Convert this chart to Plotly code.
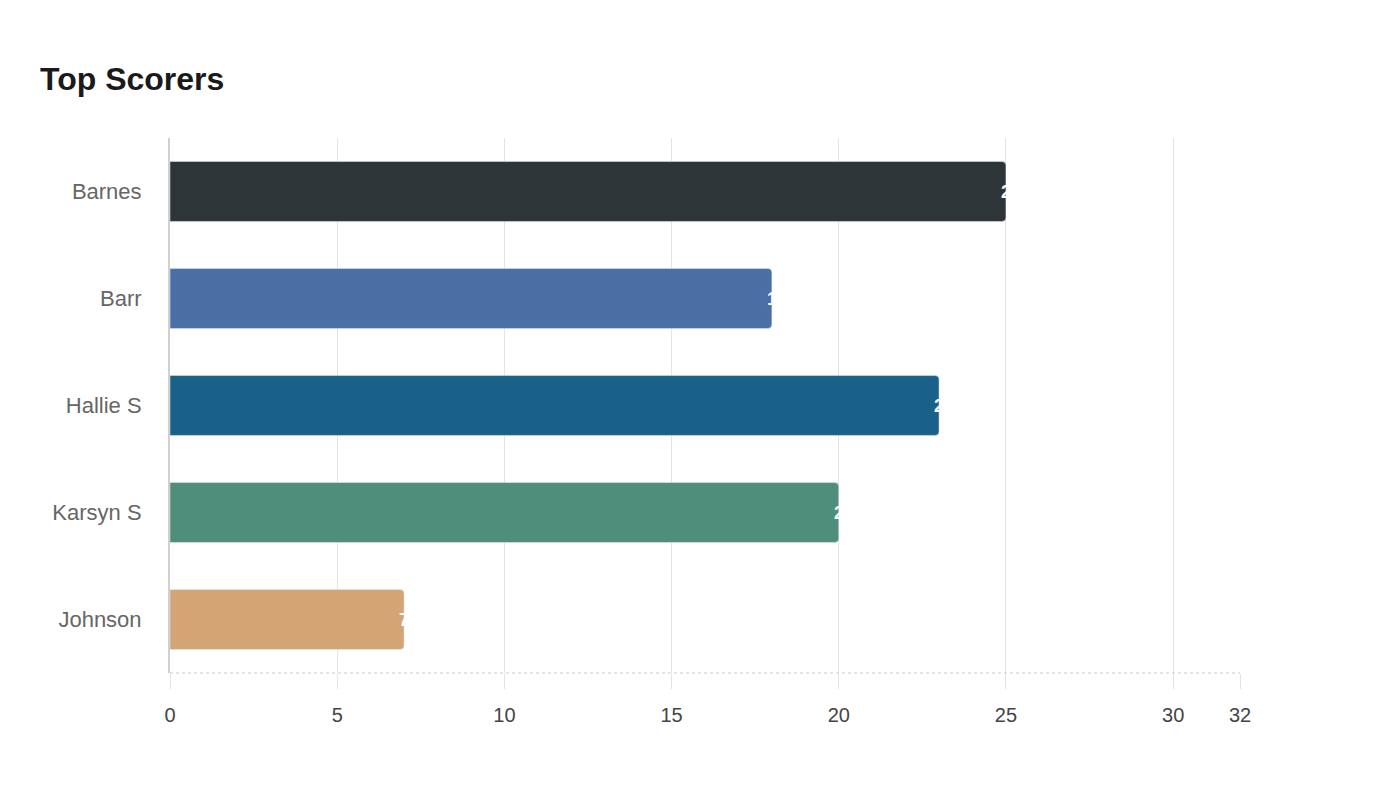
import plotly.graph_objects as go

players = ["Barnes", "Barr", "Hallie S", "Karsyn S", "Johnson"]
goals = [25, 18, 23, 20, 7]
colors = ["#2d3538", "#4a6fa5", "#1a6189", "#4f8e7b", "#d4a574"]
x_ticks = [0, 5, 10, 15, 20, 25, 30, 32]

fig = go.Figure()

fig.add_trace(
    go.Bar(
        x=goals,
        y=players,
        orientation="h",
        marker_color=colors,
        marker_cornerradius=4,
        hoverinfo="x+y",
        showlegend=False,
    )
)

# value labels sit at the bar end and spill past it (white on white)
for name, g in zip(players, goals):
    fig.add_annotation(
        x=g,
        y=name,
        text=f"<b>{g}</b>",
        showarrow=False,
        xanchor="left",
        xshift=-7,
        font=dict(color="white", size=18, family="Liberation Sans"),
    )

# dotted baseline along the bottom of the plot
fig.add_shape(
    type="line",
    xref="paper",
    yref="paper",
    x0=0,
    x1=1,
    y0=0,
    y1=0,
    line=dict(color="#cccccc", width=1, dash="dot"),
)

fig.update_layout(
    width=1400,
    height=800,
    paper_bgcolor="white",
    plot_bgcolor="white",
    font=dict(family="Liberation Sans", color="#555555"),
    title=dict(
        text="<b>Top Scorers</b>",
        x=32 / 1400,
        xanchor="left",
        y=1 - 71 / 800,
        yanchor="middle",
        font=dict(size=32, color="#1a1a1a"),
    ),
    margin=dict(l=162, r=168, t=130, b=135),
    bargap=0.44,
)

fig.update_xaxes(
    range=[0, 32],
    tickvals=x_ticks,
    showgrid=True,
    gridcolor="#e4e4e4",
    gridwidth=1,
    zeroline=False,
    showline=False,
    ticks="outside",
    ticklen=15,
    tickcolor="#e4e4e4",
    ticklabelstandoff=9,
    tickfont=dict(size=20, color="#444444"),
    fixedrange=True,
)

fig.update_yaxes(
    categoryorder="array",
    categoryarray=players[::-1],
    showgrid=False,
    showline=True,
    linecolor="#d0d0d0",
    linewidth=2,
    ticks="",
    ticklabelstandoff=22,
    tickfont=dict(size=22, color="#666666"),
    fixedrange=True,
)

fig.write_html("out.html")
